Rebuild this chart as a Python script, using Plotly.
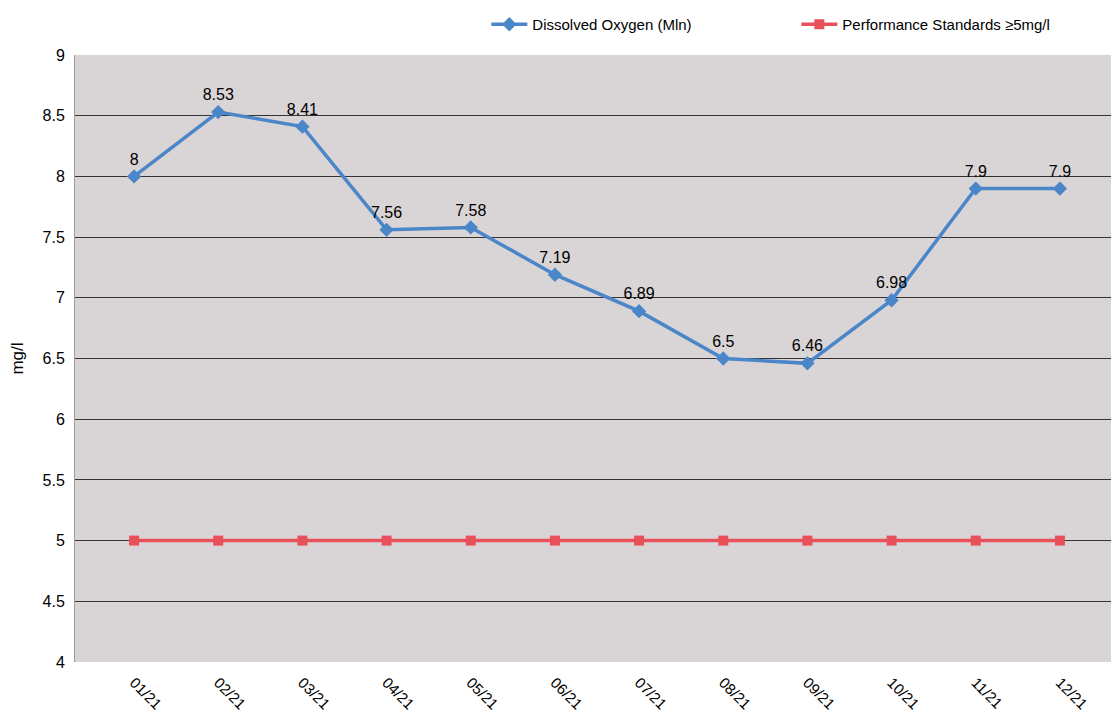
import plotly.graph_objects as go

months = ["01/21", "02/21", "03/21", "04/21", "05/21", "06/21",
          "07/21", "08/21", "09/21", "10/21", "11/21", "12/21"]
dissolved_oxygen = [8, 8.53, 8.41, 7.56, 7.58, 7.19, 6.89, 6.5, 6.46, 6.98, 7.9, 7.9]
standard = [5, 5, 5, 5, 5, 5, 5, 5, 5, 5, 5, 5]

fig = go.Figure()

fig.add_trace(go.Scatter(
    x=months, y=dissolved_oxygen, name="Dissolved Oxygen (Mln)",
    mode="lines+markers+text",
    line=dict(color="#4a86c8", width=3.5),
    marker=dict(symbol="diamond", size=11, color="#4a86c8"),
    text=[str(v) for v in dissolved_oxygen],
    textposition="top center",
    textfont=dict(size=16, color="black"),
))

fig.add_trace(go.Scatter(
    x=months, y=standard, name="Performance Standards ≥5mg/l",
    mode="lines+markers",
    line=dict(color="#e8505a", width=3.5),
    marker=dict(symbol="square", size=10, color="#e8505a"),
))

fig.update_layout(
    width=1119, height=719,
    margin=dict(l=67, r=8, t=47, b=65),
    paper_bgcolor="white",
    plot_bgcolor="#d9d4d6",
    font=dict(family="Liberation Sans, Arial, sans-serif", size=15, color="black"),
    showlegend=True,
    legend=dict(orientation="h", x=0.394, y=1.0, yref="container",
                xanchor="left", yanchor="top",
                font=dict(size=15), bgcolor="rgba(0,0,0,0)",
                entrywidth=259, itemwidth=36),
)

fig.update_yaxes(
    range=[4, 9], dtick=0.5, automargin=False,
    showgrid=True, gridcolor="#333333", gridwidth=1,
    zeroline=False,
    title_text="mg/l", title_font=dict(size=17), title_standoff=14,
    showline=True, linecolor="#9a9a9a",
    tickfont=dict(size=16), ticklabelstandoff=6,
)

fig.update_xaxes(
    tickangle=45, showgrid=False, automargin=False,
    tickfont=dict(size=15), ticklabelstandoff=8,
    showline=False,
)

fig.write_html("out.html")
